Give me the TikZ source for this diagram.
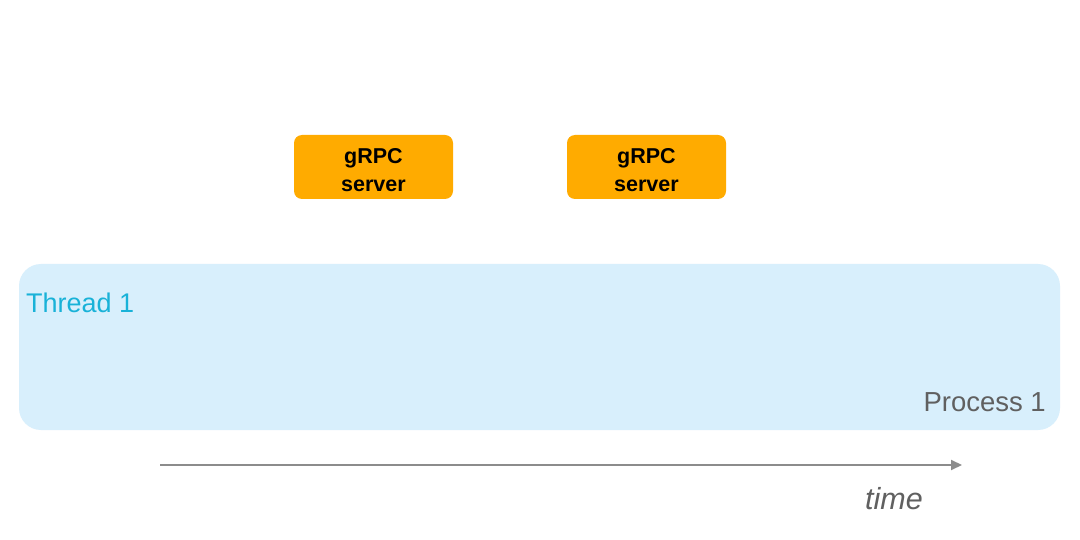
\documentclass[tikz,border=0pt]{standalone}
\usepackage{fontspec}
\setmainfont{Liberation Sans}
\usetikzlibrary{arrows.meta}
\definecolor{procfill}{HTML}{D8EFFC}
\definecolor{threadtxt}{HTML}{19B2D8}
\definecolor{grpcfill}{HTML}{FFAB00}
\definecolor{graytxt}{HTML}{606060}
\definecolor{arrowgray}{HTML}{8C8C8C}
\tikzset{
  procbox/.style={fill=procfill, draw=none, rounded corners=22pt},
  grpcbox/.style={fill=grpcfill, draw=none, rounded corners=8pt, minimum width=159pt, minimum height=64pt, inner sep=0pt},
  grpctext/.style={inner sep=0pt, align=center, font=\fontsize{21.5}{28}\selectfont\bfseries, text=black},
  lbl/.style={inner sep=0pt, anchor=base west},
  timearrow/.style={draw=arrowgray, line width=2pt, -{Triangle[length=11pt,width=10pt]}}
}
\begin{document}
\begin{tikzpicture}[x=1pt,y=-1pt]
\useasboundingbox (0,0) rectangle (1080,540);
\fill[white] (0,0) rectangle (1080,540);
\path[procbox] (19,264) rectangle (1060,430);
\node[lbl, text=threadtxt, font=\fontsize{27}{32}\selectfont] (thread) at (26,313) {Thread 1};
\node[inner sep=0pt, anchor=base east, text=graytxt, font=\fontsize{27.5}{32}\selectfont] (plabel) at (1046,411) {Process 1};
\node[grpcbox] (g1) at (373.5,167) {};
\node[grpctext] (g1t) at ([yshift=-3.5pt]g1.center) {gRPC\\server};
\node[grpcbox] (g2) at (646.5,167) {};
\node[grpctext] (g2t) at ([yshift=-3.5pt]g2.center) {gRPC\\server};
\coordinate (tstart) at (160,465);
\coordinate (tend) at (962,465);
\draw[timearrow] (tstart) -- (tend);
\node[inner sep=0pt, text=graytxt, font=\fontsize{30.5}{34}\itshape] (time) at (894,499) {time};
\end{tikzpicture}
\end{document}
